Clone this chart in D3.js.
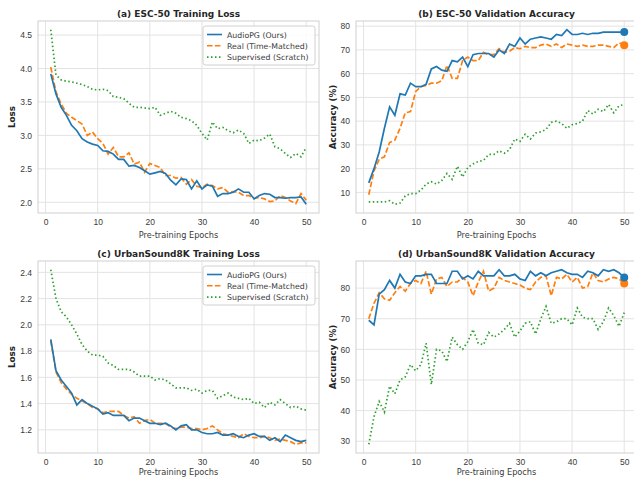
<!DOCTYPE html>
<html>
<head>
<meta charset="utf-8">
<script src="https://cdn.jsdelivr.net/npm/d3@7"></script>
<style>
  body { margin: 0; background: #fff; }
  svg { font-family: "DejaVu Sans", sans-serif; }
</style>
</head>
<body>
<svg id="chart" width="634" height="478"></svg>
<script>
// epochs 1..50
const epochs = d3.range(1, 51);

// (a) ESC-50 training loss
const esc_loss_ours = [3.92,3.62,3.42,3.30,3.15,3.07,2.95,2.90,2.87,2.85,2.77,2.76,2.72,2.64,2.64,2.54,2.55,2.52,2.47,2.42,2.44,2.46,2.43,2.33,2.26,2.35,2.34,2.20,2.32,2.20,2.26,2.24,2.09,2.13,2.13,2.15,2.20,2.15,2.15,2.05,2.10,2.13,2.12,2.07,2.07,2.06,2.07,2.07,2.08,1.97];
const esc_loss_real = [4.02,3.65,3.47,3.33,3.27,3.22,3.17,3.00,3.05,2.95,2.88,2.72,2.82,2.68,2.68,2.74,2.57,2.60,2.45,2.58,2.55,2.52,2.40,2.40,2.36,2.37,2.27,2.34,2.24,2.22,2.27,2.25,2.20,2.22,2.15,2.16,2.15,2.10,2.10,2.06,2.07,2.05,2.01,2.02,2.10,2.07,2.02,1.98,2.13,2.03];
const esc_loss_sup = [4.58,3.90,3.83,3.81,3.80,3.78,3.76,3.73,3.69,3.68,3.69,3.67,3.58,3.57,3.55,3.48,3.42,3.42,3.41,3.40,3.42,3.30,3.33,3.36,3.33,3.27,3.25,3.22,3.15,3.03,2.93,3.20,3.10,3.12,3.07,3.04,3.08,3.03,2.88,2.93,2.92,2.96,3.02,2.83,2.80,2.73,2.67,2.73,2.68,2.82];

// (b) ESC-50 validation accuracy
const esc_acc_ours = [14,20,27,37,46,42.5,51.5,51,56,54.5,54.5,55.5,62,63,61.5,61,65.5,65,67,63,68,68.5,68.5,68.5,67,70,68.5,72.5,71.5,75,72.5,74.5,75,75.5,75,74.5,76.5,76,78.5,76.5,76.5,77,76.5,77,77,77.5,77.5,77.5,77.5,77.5];
const esc_acc_real = [9,19,24,25,31,32,37,43.5,44,52.5,54.5,55,56,56,57,63.5,58,58,65.5,67,65.5,65.5,69,68,68,70.5,69,69.5,71,70.5,71.5,71,71,72,72.5,71.5,72.5,71,72.5,72,71.5,72,71.5,71.5,72,72,71.5,71,73,72];
const esc_acc_sup = [6,6,6,6,6.5,5,5.5,8.5,9.5,9.5,11,13.5,14.5,13.5,15,18,15.5,21,16.5,20.5,22,23,23.5,26,26,27.5,26.5,28,32.5,31.5,34.5,32.5,35,35.5,36.5,39.5,40,39,37,38.5,39,40,44.5,43,45,44,47,43.5,46.5,47];

// (c) UrbanSound8K training loss
const us_loss_ours = [1.89,1.65,1.58,1.53,1.48,1.39,1.43,1.40,1.38,1.36,1.32,1.33,1.31,1.31,1.31,1.27,1.29,1.29,1.27,1.25,1.25,1.24,1.25,1.23,1.20,1.23,1.24,1.20,1.20,1.18,1.17,1.17,1.18,1.16,1.16,1.17,1.15,1.14,1.16,1.17,1.15,1.15,1.12,1.14,1.11,1.16,1.14,1.12,1.11,1.12];
const us_loss_real = [1.88,1.64,1.56,1.51,1.47,1.44,1.42,1.40,1.37,1.36,1.33,1.34,1.34,1.34,1.31,1.29,1.30,1.25,1.27,1.28,1.25,1.25,1.25,1.22,1.21,1.22,1.22,1.21,1.21,1.20,1.21,1.23,1.20,1.17,1.16,1.15,1.14,1.17,1.15,1.14,1.14,1.15,1.14,1.12,1.13,1.12,1.11,1.09,1.10,1.10];
const us_loss_sup = [2.42,2.20,2.10,2.06,2.00,1.93,1.85,1.80,1.77,1.77,1.76,1.71,1.69,1.66,1.66,1.66,1.64,1.61,1.61,1.61,1.58,1.59,1.58,1.55,1.52,1.52,1.52,1.50,1.51,1.48,1.50,1.50,1.44,1.46,1.48,1.45,1.44,1.43,1.44,1.40,1.41,1.37,1.41,1.39,1.43,1.40,1.37,1.38,1.36,1.35];

// (d) UrbanSound8K validation accuracy
const us_acc_ours = [69.5,68,78,79.5,82.5,80,84.5,82,81.5,84,84,84.5,84.5,81.5,81.5,81.5,85.5,85.5,83,84,83,85.5,84,84,84,86,84,84,84.5,83,82.5,85.5,84,85,84,85,85.5,86,85,84.5,84.5,83.5,85.5,85,84,86,85.5,86,85,83.5];
const us_acc_real = [70,75,78.5,76.5,76,78.5,80.5,79,81.5,82.5,81.5,85.5,78,83,83.5,80.5,82,82,83.5,82,77.5,82,85.5,79,80,83.5,82.5,82,81.5,81,80,79.5,82,83.5,84,77.5,83.5,83,84.5,82,83.5,80,80.5,85,82.5,82,83,83.5,83,81.5];
const us_acc_sup = [29,38,43,39.5,48,45.5,50,51,55,53,55,62,48.5,60,59.5,56,64,61.5,60,62.5,66.5,62,61.5,65.5,64,65,66.5,68.5,64,66,68.5,69,65,70,74,68.5,69,70,70,68,73.5,70.5,70,70,66.5,69,73.5,71,67.5,72];

const seriesNames = ["AudioPG (Ours)", "Real (Time-Matched)", "Supervised (Scratch)"];
const colors = ["#1f77b4", "#ff7f0e", "#2ca02c"];
const dashes = [null, "5.5,2.4", "1.5,2.5"];

const panels = [
  {title: "(a) ESC-50 Training Loss", ylabel: "Loss", series: [esc_loss_ours, esc_loss_real, esc_loss_sup],
   yticks: [2.0,2.5,3.0,3.5,4.0,4.5], fmt: d3.format(".1f"), legend: true, ends: false, x0: 38, y0: 21, yl: -23, xl: 25},
  {title: "(b) ESC-50 Validation Accuracy", ylabel: "Accuracy (%)", series: [esc_acc_ours, esc_acc_real, esc_acc_sup],
   yticks: [10,20,30,40,50,60,70,80], fmt: d3.format("d"), legend: false, ends: true, x0: 356, y0: 21, yl: -20, xl: 25},
  {title: "(c) UrbanSound8K Training Loss", ylabel: "Loss", series: [us_loss_ours, us_loss_real, us_loss_sup],
   yticks: [1.2,1.4,1.6,1.8,2.0,2.2,2.4], fmt: d3.format(".1f"), legend: true, ends: false, x0: 38, y0: 261, yl: -23, xl: 22},
  {title: "(d) UrbanSound8K Validation Accuracy", ylabel: "Accuracy (%)", series: [us_acc_ours, us_acc_real, us_acc_sup],
   yticks: [30,40,50,60,70,80], fmt: d3.format("d"), legend: false, ends: true, x0: 356, y0: 261, yl: -20, xl: 22}
];

const W = 281, H = 192;
const svg = d3.select("#chart");

// matplotlib style 5% padding
function padded(ext) {
  const m = (ext[1] - ext[0]) * 0.05;
  return [ext[0] - m, ext[1] + m];
}

panels.forEach(p => {
  const g = svg.append("g").attr("transform", "translate(" + p.x0 + "," + p.y0 + ")");

  const x = d3.scaleLinear().domain(padded([1, 50])).range([0, W]);
  const allY = p.series.flat();
  const y = d3.scaleLinear().domain(padded(d3.extent(allY))).range([H, 0]);

  // grid
  g.append("g").selectAll("line").data([0,10,20,30,40,50]).join("line")
    .attr("x1", d => x(d)).attr("x2", d => x(d)).attr("y1", 0).attr("y2", H)
    .attr("stroke", "#e3e3e3").attr("stroke-width", 1);
  g.append("g").selectAll("line").data(p.yticks).join("line")
    .attr("x1", 0).attr("x2", W).attr("y1", d => y(d)).attr("y2", d => y(d))
    .attr("stroke", "#e3e3e3").attr("stroke-width", 1);

  // axes (no tick marks, like seaborn whitegrid)
  const xa = g.append("g").attr("transform", "translate(0," + H + ")")
    .call(d3.axisBottom(x).tickValues([0,10,20,30,40,50]).tickSize(0).tickPadding(6));
  const ya = g.append("g")
    .call(d3.axisLeft(y).tickValues(p.yticks).tickFormat(p.fmt).tickSize(0).tickPadding(6));
  [xa, ya].forEach(a => {
    a.select(".domain").remove();
    a.selectAll("text").attr("fill", "#3a3a3a").style("font-size", "8.5px");
  });

  // frame
  g.append("rect").attr("width", W).attr("height", H)
    .attr("fill", "none").attr("stroke", "#d0d0d0").attr("stroke-width", 1);

  // lines
  const line = d3.line().x((d, i) => x(epochs[i])).y(d => y(d));
  [2, 1, 0].forEach(k => {
    g.append("path").datum(p.series[k])
      .attr("d", line)
      .attr("fill", "none")
      .attr("stroke", colors[k])
      .attr("stroke-width", 1.7)
      .attr("stroke-dasharray", dashes[k]);
  });

  // final points
  if (p.ends) {
    [1, 0].forEach(k => {
      g.append("circle")
        .attr("cx", x(50)).attr("cy", y(p.series[k][49]))
        .attr("r", 4).attr("fill", colors[k]);
    });
  }

  // title
  g.append("text").attr("x", W / 2).attr("y", -4)
    .attr("text-anchor", "middle").style("font-size", "9px").style("font-weight", "bold")
    .attr("fill", "#262626").text(p.title);

  // labels
  g.append("text").attr("x", W / 2).attr("y", H + p.xl)
    .attr("text-anchor", "middle").style("font-size", "8.2px").attr("fill", "#3a3a3a")
    .text("Pre-training Epochs");
  g.append("text")
    .attr("transform", "translate(" + p.yl + "," + (H / 2) + ")rotate(-90)")
    .attr("text-anchor", "middle").style("font-size", "8.8px").style("font-weight", "bold")
    .attr("fill", "#262626").text(p.ylabel);

  // legend
  if (p.legend) {
    const lg = g.append("g").attr("transform", "translate(" + (W - 116) + ",5)");
    lg.append("rect").attr("width", 112).attr("height", 39).attr("rx", 2.5)
      .attr("fill", "#fff").attr("fill-opacity", 0.85).attr("stroke", "#d0d0d0");
    seriesNames.forEach((name, k) => {
      const yy = 8.5 + k * 11.3;
      lg.append("line").attr("x1", 4).attr("x2", 19).attr("y1", yy).attr("y2", yy)
        .attr("stroke", colors[k]).attr("stroke-width", 1.6).attr("stroke-dasharray", dashes[k]);
      lg.append("text").attr("x", 24).attr("y", yy + 3).style("font-size", "7.8px")
        .attr("fill", "#3a3a3a").text(name);
    });
  }
});
</script>
</body>
</html>
